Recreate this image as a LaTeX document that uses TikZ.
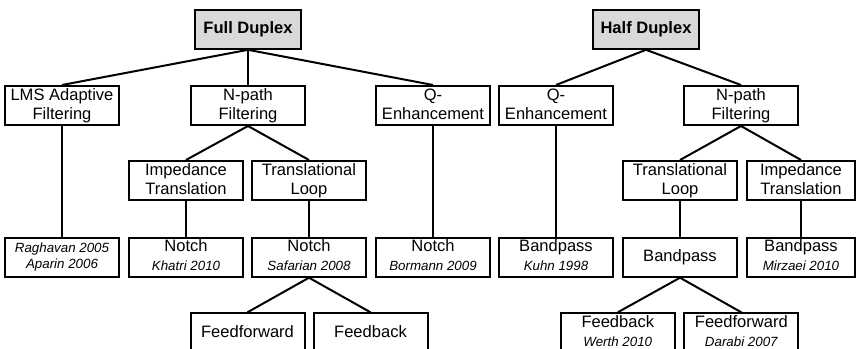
\documentclass[tikz,border=0pt]{standalone}
\usepackage{fontspec}
\setmainfont{Liberation Sans}
\definecolor{rootgray}{HTML}{D9D9D9}
\newcommand{\rf}[1]{{\fontsize{10}{12}\selectfont\itshape #1}}
\tikzset{
  bx/.style={draw, line width=1.5pt, minimum width=85.5pt, minimum height=29.25pt,
    inner sep=0pt, align=center, font=\fontsize{12.4}{14.25}\selectfont,
    execute at end node=\vphantom{g}},
  rootbox/.style={bx, fill=rootgray, font=\bfseries\fontsize{12.4}{14.25}\selectfont,
    minimum width=79pt},
  narrow/.style={minimum width=81pt},
  ln/.style={line width=1.5pt}
}
\begin{document}
\begin{tikzpicture}[x=0.75pt, y=-0.75pt]
\useasboundingbox (0,0) rectangle (856,349);
\clip (0,0) rectangle (856,349);
% roots
\node[rootbox] (fd) at (248,29.3) {Full Duplex};
\node[rootbox] (hd) at (646,29.3) {Half Duplex};
% level 1
\node[bx] (lms) at (62,105.5) {LMS Adaptive\\Filtering};
\node[bx] (npl) at (248,105.5) {N-path\\Filtering};
\node[bx] (qe1) at (433,105.5) {Q-\\Enhancement};
\node[bx] (qe2) at (556,105.5) {Q-\\Enhancement};
\node[bx] (npr) at (741,105.5) {N-path\\Filtering};
% level 2
\node[bx] (imp1) at (186,180.5) {Impedance\\Translation};
\node[bx] (tl1) at (309,180.5) {Translational\\Loop};
\node[bx] (tl2) at (680,180.5) {Translational\\Loop};
\node[bx,narrow] (imp2) at (801,180.5) {Impedance\\Translation};
% level 3
\node[bx, font=\fontsize{10}{12}\selectfont\itshape] (rag) at (62,257.2) {Raghavan 2005\\Aparin 2006};
\node[bx] (kha) at (186,257.2) {Notch\\\rf{Khatri 2010}};
\node[bx] (saf) at (309,257.2) {Notch\\\rf{Safarian 2008}};
\node[bx] (bor) at (433,257.2) {Notch\\\rf{Bormann 2009}};
\node[bx] (kuh) at (556,257.2) {Bandpass\\\rf{Kuhn 1998}};
\node[bx] (bp) at (680,257.2) {Bandpass};
\node[bx,narrow] (mir) at (801,257.2) {Bandpass\\\rf{Mirzaei 2010}};
% level 4
\node[bx] (ff1) at (247.5,332.8) {Feedforward};
\node[bx] (fb1) at (370.5,332.8) {Feedback};
\node[bx] (fb2) at (617.8,332.8) {Feedback\\\rf{Werth 2010}};
\node[bx] (ff2) at (741.3,332.8) {Feedforward\\\rf{Darabi 2007}};
% connectors
\draw[ln] (fd.south) -- (lms.north);
\draw[ln] (fd.south) -- (npl.north);
\draw[ln] (fd.south) -- (qe1.north);
\draw[ln] (hd.south) -- (qe2.north);
\draw[ln] (hd.south) -- (npr.north);
\draw[ln] (npl.south) -- (imp1.north);
\draw[ln] (npl.south) -- (tl1.north);
\draw[ln] (npr.south) -- (tl2.north);
\draw[ln] (npr.south) -- (imp2.north);
\draw[ln] (lms.south) -- (rag.north);
\draw[ln] (imp1.south) -- (kha.north);
\draw[ln] (tl1.south) -- (saf.north);
\draw[ln] (qe1.south) -- (bor.north);
\draw[ln] (qe2.south) -- (kuh.north);
\draw[ln] (tl2.south) -- (bp.north);
\draw[ln] (imp2.south) -- (mir.north);
\draw[ln] (saf.south) -- (ff1.north);
\draw[ln] (saf.south) -- (fb1.north);
\draw[ln] (bp.south) -- (fb2.north);
\draw[ln] (bp.south) -- (ff2.north);
\end{tikzpicture}
\end{document}
